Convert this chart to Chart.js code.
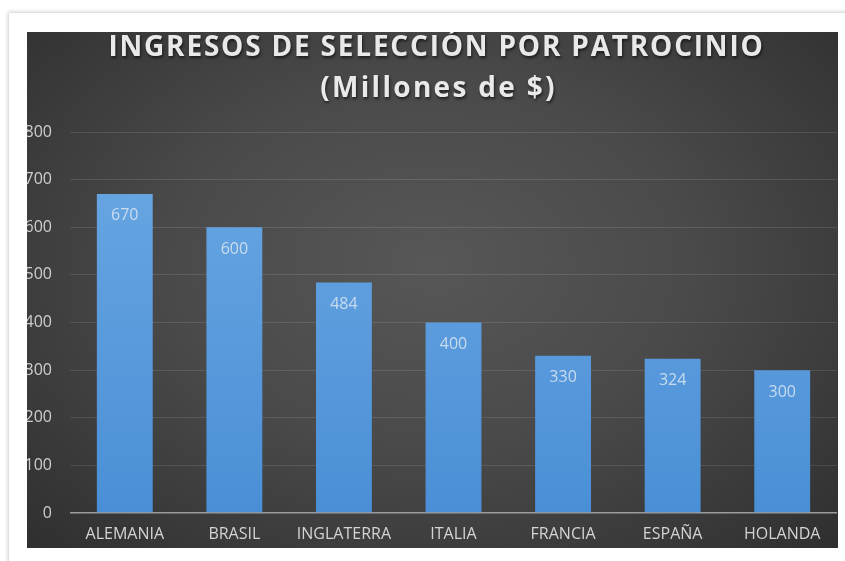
<!DOCTYPE html>
<html>
<head>
<meta charset="utf-8">
<script src="https://cdn.jsdelivr.net/npm/chart.js@4/dist/chart.umd.min.js"></script>
<style>
  body { margin: 0; background: #fff; width: 845px; height: 561px; overflow: hidden; position: relative; }
  #card { position: absolute; left: 9px; top: 13px; width: 850px; height: 560px; background: #fff;
          box-shadow: -1px -1px 4px rgba(0,0,0,0.2); }
  #plot { position: absolute; left: 27px; top: 32px; width: 811px; height: 516px; overflow: hidden;
          background: radial-gradient(ellipse farthest-corner at 50% 45%, #575757 0%, #4a4a4a 45%, #2f2f2f 100%); }
</style>
</head>
<body>
<div id="card"></div>
<div id="plot"><canvas id="chart" width="811" height="516"></canvas></div>
<script>
// --- data ---
const TITLE_LINES = ['INGRESOS DE SELECCIÓN POR PATROCINIO', '(Millones de $)'];
const CATEGORIES = ['ALEMANIA', 'BRASIL', 'INGLATERRA', 'ITALIA', 'FRANCIA', 'ESPAÑA', 'HOLANDA'];
const VALUES = [670, 600, 484, 400, 330, 324, 300];
const Y_MIN = 0;
const Y_MAX = 800;
const Y_STEP = 100;

// title drawn by hand so it can have letter spacing and a shadow
const titlePlugin = {
  id: 'excelTitle',
  afterDraw(chart) {
    const ctx = chart.ctx;
    const cx = chart.width / 2 + 4;
    ctx.save();
    ctx.font = 'bold 28px "Open Sans"';
    ctx.textAlign = 'center';
    ctx.textBaseline = 'middle';
    ctx.shadowColor = 'rgba(0,0,0,0.6)';
    ctx.shadowBlur = 3;
    ctx.shadowOffsetX = 1;
    ctx.shadowOffsetY = 2;
    ctx.fillStyle = '#e9e9e9';
    ctx.letterSpacing = '1.8px';
    ctx.fillText(TITLE_LINES[0], cx, 16);
    ctx.letterSpacing = '2.3px';
    ctx.fillText(TITLE_LINES[1], cx + 2, 57);
    ctx.restore();
  }
};

// value labels inside the top of each bar
const valueLabels = {
  id: 'valueLabels',
  afterDatasetsDraw(chart) {
    const ctx = chart.ctx;
    const meta = chart.getDatasetMeta(0);
    ctx.save();
    ctx.font = '16px "Open Sans"';
    ctx.fillStyle = 'rgba(222,232,243,0.82)';
    ctx.textAlign = 'center';
    ctx.textBaseline = 'middle';
    meta.data.forEach((bar, i) => {
      ctx.fillText(String(VALUES[i]), bar.x, bar.y + 22);
    });
    ctx.restore();
  }
};

const barFill = (c) => {
  const { ctx, chartArea } = c.chart;
  if (!chartArea) return '#5b9bd5';
  const g = ctx.createLinearGradient(0, chartArea.top, 0, chartArea.bottom);
  g.addColorStop(0, '#6ba8e3');
  g.addColorStop(1, '#4a8fd6');
  return g;
};

new Chart(document.getElementById('chart'), {
  type: 'bar',
  data: {
    labels: CATEGORIES,
    datasets: [{
      data: VALUES,
      backgroundColor: barFill,
      borderWidth: 0,
      barPercentage: 0.51,
      categoryPercentage: 1.0
    }]
  },
  options: {
    responsive: false,
    animation: false,
    layout: { padding: { top: 100, right: 1, bottom: 4, left: 0 } },
    plugins: {
      legend: { display: false },
      title: { display: false },
      tooltip: { enabled: false }
    },
    scales: {
      x: {
        afterFit(scale) { scale.height = 31; },
        grid: { display: false, drawTicks: false },
        border: { display: false },
        ticks: { color: '#d4d4d4', font: { family: 'Open Sans', size: 16 }, padding: 12, maxRotation: 0 }
      },
      y: {
        min: Y_MIN,
        max: Y_MAX,
        afterFit(scale) { scale.width = 43; },
        grid: {
          drawTicks: false,
          color: (c) => c.tick && c.tick.value === 0 ? '#9c9c9c' : 'rgba(255,255,255,0.11)',
          lineWidth: (c) => c.tick && c.tick.value === 0 ? 1.5 : 1
        },
        border: { display: false },
        ticks: { stepSize: Y_STEP, color: '#cfcfcf', font: { family: 'Open Sans', size: 16 }, padding: 18 }
      }
    }
  },
  plugins: [titlePlugin, valueLabels]
});
</script>
</body>
</html>
